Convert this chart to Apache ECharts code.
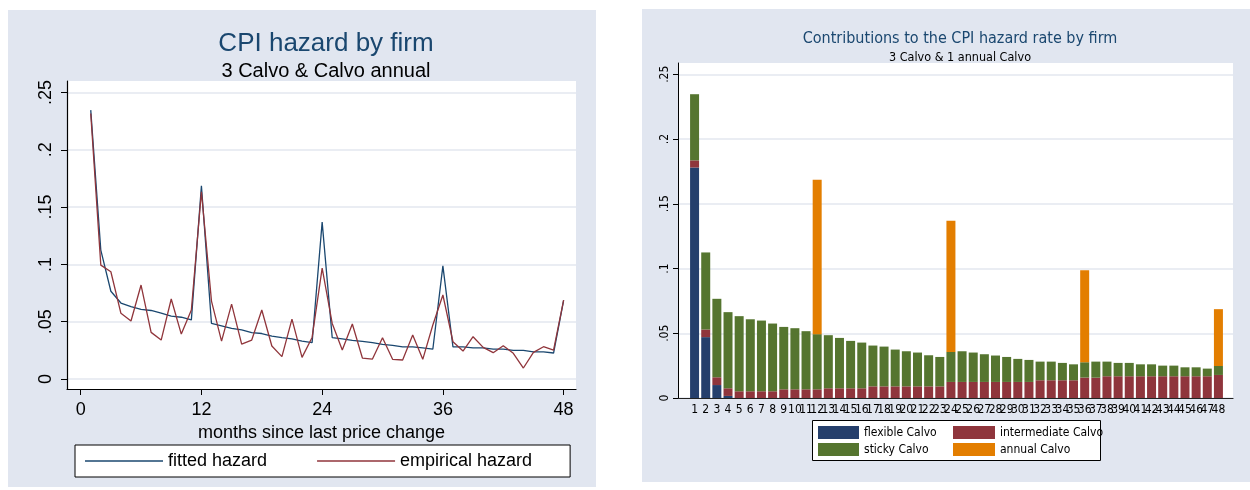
<!DOCTYPE html>
<html>
<head>
<meta charset="utf-8">
<script src="https://cdn.jsdelivr.net/npm/echarts@6/dist/echarts.min.js"></script>
<style>
html, body { margin: 0; padding: 0; background: #fff; }
#wrap { position: relative; width: 1250px; height: 490px; }
.panel { position: absolute; background: #e1e6f0; }
#main { position: absolute; left: 0; top: 0; width: 1250px; height: 490px; }
</style>
</head>
<body>
<div id="wrap">
  <div class="panel" style="left:8px;top:10px;width:588px;height:477px"></div>
  <div class="panel" style="left:642px;top:9px;width:608px;height:473px"></div>
  <div id="main"></div>
</div>
<script>
// months since last price change
const months = [1, 2, 3, 4, 5, 6, 7, 8, 9, 10, 11, 12, 13, 14, 15, 16, 17, 18, 19, 20, 21, 22, 23, 24,
  25, 26, 27, 28, 29, 30, 31, 32, 33, 34, 35, 36, 37, 38, 39, 40, 41, 42, 43, 44, 45, 46, 47, 48];

// left panel
const fittedHazard = [0.2346, 0.1124, 0.0766, 0.0663, 0.0632, 0.0608, 0.0598, 0.0575, 0.0549, 0.0539, 0.0516, 0.1686,
  0.0485, 0.0464, 0.0441, 0.0428, 0.0405, 0.0397, 0.0374, 0.0361, 0.0351, 0.0330, 0.0317, 0.1369,
  0.0361, 0.0351, 0.0338, 0.0328, 0.0317, 0.0302, 0.0294, 0.0281, 0.0281, 0.0271, 0.0260, 0.0987,
  0.0281, 0.0281, 0.0271, 0.0271, 0.0260, 0.0260, 0.0250, 0.0250, 0.0237, 0.0237, 0.0227, 0.0686];
const empiricalHazard = [0.2317, 0.0994, 0.0936, 0.0573, 0.0506, 0.0820, 0.0407, 0.0340, 0.0698, 0.0392, 0.0602, 0.1634,
  0.0680, 0.0331, 0.0654, 0.0305, 0.0340, 0.0602, 0.0288, 0.0195, 0.0523, 0.0189, 0.0363, 0.0968,
  0.0485, 0.0253, 0.0480, 0.0183, 0.0174, 0.0360, 0.0172, 0.0166, 0.0384, 0.0172, 0.0471, 0.0733,
  0.0326, 0.0244, 0.0369, 0.0276, 0.0230, 0.0291, 0.0224, 0.0096, 0.0233, 0.0282, 0.0253, 0.0689];
const xTicks = [0, 12, 24, 36, 48];
const yTicks = [0, 0.05, 0.1, 0.15, 0.2, 0.25];

// right panel: contributions by firm type
const flexibleCalvo = [0.178, 0.047, 0.010, 0.0016, 0, 0, 0, 0, 0, 0, 0, 0,
  0, 0, 0, 0, 0, 0, 0, 0, 0, 0, 0, 0,
  0, 0, 0, 0, 0, 0, 0, 0, 0, 0, 0, 0,
  0, 0, 0, 0, 0, 0, 0, 0, 0, 0, 0, 0];
const intermediateCalvo = [0.0055, 0.0059, 0.0060, 0.0059, 0.0052, 0.0052, 0.0052, 0.0052, 0.0067, 0.0067, 0.0067, 0.0067,
  0.0075, 0.0075, 0.0075, 0.0075, 0.0090, 0.0090, 0.0090, 0.0090, 0.0090, 0.0090, 0.0090, 0.0124,
  0.0124, 0.0124, 0.0124, 0.0124, 0.0124, 0.0124, 0.0124, 0.0137, 0.0137, 0.0137, 0.0137, 0.0158,
  0.0157, 0.0168, 0.0168, 0.0168, 0.0168, 0.0168, 0.0168, 0.0168, 0.0168, 0.0168, 0.0168, 0.0178];
const stickyCalvo = [0.0511, 0.0595, 0.0606, 0.0588, 0.0580, 0.0556, 0.0546, 0.0523, 0.0482, 0.0472, 0.0449, 0.0426,
  0.0410, 0.0389, 0.0366, 0.0353, 0.0315, 0.0307, 0.0284, 0.0271, 0.0261, 0.0240, 0.0227, 0.0232,
  0.0237, 0.0227, 0.0214, 0.0204, 0.0193, 0.0178, 0.0170, 0.0144, 0.0144, 0.0134, 0.0123, 0.0118,
  0.0124, 0.0113, 0.0103, 0.0103, 0.0092, 0.0092, 0.0082, 0.0082, 0.0069, 0.0069, 0.0059, 0.0069];
const annualCalvo = [0, 0, 0, 0, 0, 0, 0, 0, 0, 0, 0, 0.1193,
  0, 0, 0, 0, 0, 0, 0, 0, 0, 0, 0, 0.1013,
  0, 0, 0, 0, 0, 0, 0, 0, 0, 0, 0, 0.0711,
  0, 0, 0, 0, 0, 0, 0, 0, 0, 0, 0, 0.0439];

const LS = '"Liberation Sans", Arial, sans-serif';
const NAR = '"Liberation Sans Narrow", "DejaVu Sans Condensed", sans-serif';
const navy = '#1a476f', maroon = '#90353b';
const cFlex = '#253f6c', cInter = '#8f353c', cSticky = '#55752f', cAnnual = '#e37e00';
const gridColor = '#e3e7ef';

const stataFmt = v => v === 0 ? '0' : String(+v.toFixed(2)).replace(/^0/, '');
const pairs = arr => months.map((m, i) => [m, arr[i]]);

const chart = echarts.init(document.getElementById('main'));

// grid 0: left line plot, grid 1: right plot frame + gridlines, grid 2: right bars
const option = {
  backgroundColor: 'transparent',
  animation: false,
  title: [
    { text: 'CPI hazard by firm', left: 321, top: 26, textAlign: 'center',
      textStyle: { fontFamily: LS, fontSize: 26, fontWeight: 'normal', color: navy } },
    { text: '3 Calvo & Calvo annual', left: 321, top: 56, textAlign: 'center',
      textStyle: { fontFamily: LS, fontSize: 20, fontWeight: 'normal', color: '#000' } },
    { text: 'Contributions to the CPI hazard rate by firm', left: 955, top: 26, textAlign: 'center',
      textStyle: { fontFamily: NAR, fontSize: 16, fontWeight: 'normal', color: navy } },
    { text: '3 Calvo & 1 annual Calvo', left: 955, top: 46, textAlign: 'center',
      textStyle: { fontFamily: NAR, fontSize: 12.5, fontWeight: 'normal', color: '#000' } }
  ],
  grid: [
    { left: 67, top: 81, width: 509, height: 308, show: true, backgroundColor: '#fff', borderWidth: 0 },
    { left: 678, top: 63, width: 555, height: 335, show: true, backgroundColor: '#fff', borderWidth: 0 },
    { left: 689, top: 63, width: 535, height: 335 }
  ],
  xAxis: [
    {
      type: 'value', gridIndex: 0, min: -1.36, max: 49.23,
      name: 'months since last price change', nameLocation: 'middle', nameGap: 24,
      nameTextStyle: { fontFamily: LS, fontSize: 18, color: '#000' },
      axisLine: { show: true, onZero: false, lineStyle: { color: '#000', width: 1.2 } },
      axisTick: { show: true, length: 6, customValues: xTicks, lineStyle: { color: '#000' } },
      axisLabel: { customValues: xTicks, margin: 12, fontFamily: LS, fontSize: 18, color: '#000' },
      splitLine: { show: false }
    },
    {
      type: 'value', gridIndex: 1, min: 0, max: 1,
      axisLine: { show: true, onZero: false, lineStyle: { color: '#222', width: 1.2 } },
      axisTick: { show: false }, axisLabel: { show: false }, splitLine: { show: false }
    },
    {
      type: 'category', gridIndex: 2, data: months,
      axisLine: { show: false }, axisTick: { show: false },
      axisLabel: { interval: 0, margin: 6, fontFamily: NAR, fontSize: 12, color: '#000' }
    }
  ],
  yAxis: [
    {
      type: 'value', gridIndex: 0, min: -0.0087, max: 0.26,
      axisLine: { show: true, onZero: false, lineStyle: { color: '#000', width: 1.2 } },
      axisTick: { show: true, length: 6, customValues: yTicks, lineStyle: { color: '#000' } },
      axisLabel: { customValues: yTicks, rotate: 90, margin: 12, formatter: stataFmt,
        fontFamily: LS, fontSize: 18, color: '#000' },
      splitLine: { show: true, lineStyle: { color: gridColor, width: 1.5 } }
    },
    {
      type: 'value', gridIndex: 1, min: 0, max: 0.2587,
      axisLine: { show: true, onZero: false, lineStyle: { color: '#000', width: 1 } },
      axisTick: { show: true, length: 5, customValues: yTicks, lineStyle: { color: '#000' } },
      axisLabel: { customValues: yTicks, rotate: 90, margin: 7, formatter: stataFmt,
        fontFamily: NAR, fontSize: 12, color: '#000' },
      splitLine: { show: true, lineStyle: { color: gridColor, width: 1.5 } }
    },
    {
      type: 'value', gridIndex: 2, min: 0, max: 0.2587, show: false
    }
  ],
  legend: [
    {
      data: ['fitted hazard', 'empirical hazard'], left: 75, top: 445, orient: 'horizontal',
      icon: 'rect', itemWidth: 78, itemHeight: 1.5, itemGap: 50, padding: [7, 38, 7, 10],
      borderColor: '#000', borderWidth: 1, backgroundColor: '#fff',
      textStyle: { fontFamily: LS, fontSize: 18, color: '#000' }
    },
    {
      data: ['flexible Calvo', 'sticky Calvo'], left: 818, top: 426, orient: 'vertical',
      icon: 'rect', itemWidth: 41, itemHeight: 13, itemGap: 4, padding: 0,
      textStyle: { fontFamily: NAR, fontSize: 12, color: '#000' }
    },
    {
      data: ['intermediate Calvo', 'annual Calvo'], left: 953, top: 426, orient: 'vertical',
      icon: 'rect', itemWidth: 42, itemHeight: 13, itemGap: 4, padding: 0,
      textStyle: { fontFamily: NAR, fontSize: 12, color: '#000' }
    }
  ],
  graphic: [
    { type: 'rect', z: 1, shape: { x: 812.5, y: 420.5, width: 288, height: 40 },
      style: { fill: '#fff', stroke: '#000', lineWidth: 1 } }
  ],
  series: [
    { name: 'fitted hazard', type: 'line', xAxisIndex: 0, yAxisIndex: 0, data: pairs(fittedHazard),
      symbol: 'none', lineStyle: { color: navy, width: 1.3 }, itemStyle: { color: navy } },
    { name: 'empirical hazard', type: 'line', xAxisIndex: 0, yAxisIndex: 0, data: pairs(empiricalHazard),
      symbol: 'none', lineStyle: { color: maroon, width: 1.3 }, itemStyle: { color: maroon } },
    { name: 'flexible Calvo', type: 'bar', xAxisIndex: 2, yAxisIndex: 2, stack: 'firm', barWidth: 9,
      data: flexibleCalvo, itemStyle: { color: cFlex } },
    { name: 'intermediate Calvo', type: 'bar', xAxisIndex: 2, yAxisIndex: 2, stack: 'firm', barWidth: 9,
      data: intermediateCalvo, itemStyle: { color: cInter } },
    { name: 'sticky Calvo', type: 'bar', xAxisIndex: 2, yAxisIndex: 2, stack: 'firm', barWidth: 9,
      data: stickyCalvo, itemStyle: { color: cSticky } },
    { name: 'annual Calvo', type: 'bar', xAxisIndex: 2, yAxisIndex: 2, stack: 'firm', barWidth: 9,
      data: annualCalvo, itemStyle: { color: cAnnual } }
  ]
};

chart.setOption(option);
</script>
</body>
</html>
